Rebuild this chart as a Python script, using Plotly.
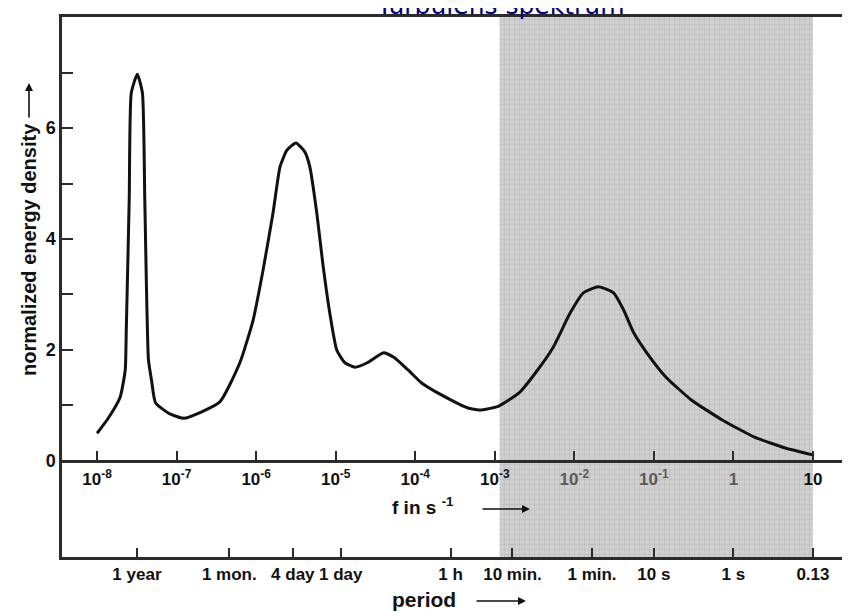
import plotly.graph_objects as go

# ---- data ----
log_f = [-8.00, -7.86, -7.71, -7.646, -7.633, -7.596, -7.57, -7.494, -7.43, -7.40, -7.354,
         -7.316, -7.266, -7.10, -6.91, -6.46, -6.205, -6.038, -5.913, -5.788, -5.70, -5.613,
         -5.50, -5.388, -5.325, -5.238, -5.163, -5.075, -4.987, -4.885, -4.756, -4.603,
         -4.397, -4.269, -4.09, -3.924, -3.671, -3.329, -3.165, -2.949, -2.692, -2.487,
         -2.269, -2.051, -1.886, -1.696, -1.506, -1.38, -1.253, -1.089, -0.847, -0.529,
         -0.141, 0.265, 0.663, 1.0]
energy = [0.50, 0.77, 1.15, 1.64, 2.36, 4.70, 6.63, 6.97, 6.63, 4.70, 1.82,
          1.46, 1.05, 0.86, 0.77, 1.06, 1.77, 2.54, 3.44, 4.47, 5.30, 5.60,
          5.73, 5.57, 5.30, 4.47, 3.57, 2.67, 2.00, 1.77, 1.69, 1.77,
          1.95, 1.87, 1.64, 1.41, 1.19, 0.95, 0.92, 0.99, 1.23, 1.59,
          2.04, 2.67, 3.03, 3.14, 3.03, 2.72, 2.31, 1.95, 1.51, 1.10,
          0.74, 0.43, 0.23, 0.11]
freq = [10 ** v for v in log_f]

freq_ticks = [1e-8, 1e-7, 1e-6, 1e-5, 1e-4, 1e-3, 1e-2, 1e-1, 1, 10]
freq_labels = ["10<sup>-8</sup>", "10<sup>-7</sup>", "10<sup>-6</sup>", "10<sup>-5</sup>",
               "10<sup>-4</sup>", "10<sup>-3</sup>",
               "<span style='color:#5a5a5a'>10<sup>-2</sup></span>",
               "<span style='color:#5a5a5a'>10<sup>-1</sup></span>",
               "<span style='color:#5a5a5a'>1</span>", "10"]

period_ticks = [3.17e-8, 4.6e-7, 2.89e-6, 1.157e-5, 2.78e-4, 1.67e-3, 1.67e-2, 0.1, 1, 10]
period_labels = ["1 year", "1 mon.", "4 day", "1 day", "1 h", "10 min.", "1 min.", "10 s", "1 s", "0.13"]

y_ticks = [0, 1, 2, 3, 4, 5, 6, 7, 8]
y_labels = ["0", "", "2", "", "4", "", "6", "", "8"]

shade_f = [1.15e-3, 10]
y_min, y_max = -1.73, 8

x_range = [-8.441, 1.554]
FONT = "Liberation Sans, Arial, sans-serif"
AX = "#2b2b2b"

fig = go.Figure()

# shaded, hatched band (on the main x axis = period axis)
fig.add_trace(go.Scatter(
    x=[shade_f[0], shade_f[1], shade_f[1], shade_f[0], shade_f[0]],
    y=[y_min, y_min, y_max, y_max, y_min],
    fill="toself", mode="none", xaxis="x", yaxis="y",
    fillcolor="#cfcfcf",
    fillpattern=dict(shape="+", size=5, solidity=0.2, fgcolor="#a4a4a4",
                     fillmode="overlay"),
    hoverinfo="skip", showlegend=False))

# spectrum curve (on the frequency axis)
fig.add_trace(go.Scatter(
    x=freq, y=energy, xaxis="x2", yaxis="y", mode="lines",
    line=dict(color="#111111", width=3, shape="spline", smoothing=0.5),
    showlegend=False))

tickfont = dict(family=FONT, size=17, color="#111111", weight="bold")

# page body has an 8px margin, so the figure is offset by 8px; margins compensate
fig.update_layout(
    width=850, height=612,
    margin=dict(l=54, r=1, t=9, b=63, autoexpand=False),
    paper_bgcolor="white", plot_bgcolor="white",
    xaxis=dict(type="log", range=x_range, tickvals=period_ticks, ticktext=period_labels,
               ticks="inside", ticklen=9, tickwidth=2, tickcolor=AX, automargin=False,
               showline=True, linewidth=2.5, linecolor=AX, mirror=True,
               showgrid=False, zeroline=False, tickfont=tickfont, ticklabelstandoff=0),
    xaxis2=dict(type="log", range=x_range, overlaying="x", anchor="free", position=0.1778,
                side="bottom", tickvals=freq_ticks, ticktext=freq_labels, automargin=False,
                ticks="inside", ticklen=9, tickwidth=2, tickcolor=AX,
                showline=True, linewidth=2.5, linecolor=AX,
                showgrid=False, zeroline=False, tickfont=tickfont, ticklabelstandoff=2),
    yaxis=dict(range=[y_min, y_max], tickvals=y_ticks, ticktext=y_labels, automargin=False,
               ticks="inside", ticklen=11, tickwidth=2, tickcolor=AX, mirror="ticks",
               showline=True, linewidth=2.5, linecolor=AX,
               showgrid=False, zeroline=False,
               tickfont=dict(family=FONT, size=18, color="#111111", weight="bold")),
)

def px_x(p):
    return (p - 62) / 795.0

def px_y(p):
    return (557 - p) / 540.0

ann = [
    dict(text="Turbulens spektrum", x=px_x(500), y=0.991, xanchor="center", yanchor="bottom",
         font=dict(family="DejaVu Sans, Verdana, sans-serif", size=25, color="#00007a")),
    dict(text="<b>normalized energy density</b>", textangle=-90, x=px_x(29), y=px_y(250),
         xanchor="center", yanchor="middle", font=dict(family=FONT, size=20, color="#111")),
    dict(text="<b>f in s <sup>-1</sup></b>", x=px_x(423), y=px_y(506),
         xanchor="center", yanchor="middle", font=dict(family=FONT, size=19, color="#111")),
    dict(text="<b>period</b>", x=px_x(424), y=px_y(599),
         xanchor="center", yanchor="middle", font=dict(family=FONT, size=21, color="#111")),
]
arrows = [
    dict(x=px_x(29), y=px_y(83), ax=0, ay=36),
    dict(x=px_x(530), y=px_y(509), ax=-49, ay=0),
    dict(x=px_x(526), y=px_y(601), ax=-51, ay=0),
]
for a in ann:
    fig.add_annotation(xref="paper", yref="paper", showarrow=False, **a)
for a in arrows:
    fig.add_annotation(xref="paper", yref="paper", text="", showarrow=True,
                       arrowhead=2, arrowsize=1, arrowwidth=1.6, arrowcolor="#111",
                       axref="pixel", ayref="pixel", **a)

fig.write_html("out.html")
